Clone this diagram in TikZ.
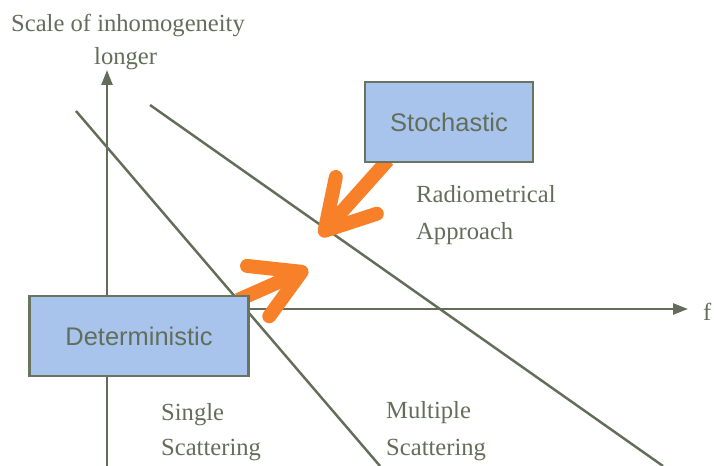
\documentclass[tikz,border=0pt]{standalone}
\usepackage{fontspec}
\setmainfont{Liberation Serif}
\setsansfont{Liberation Sans}
\usetikzlibrary{arrows.meta, positioning}
\definecolor{ink}{RGB}{98,110,90}
\definecolor{boxblue}{RGB}{168,196,236}
\definecolor{boxedge}{RGB}{104,116,96}
\definecolor{hintorange}{RGB}{248,128,40}

\begin{document}
\begin{tikzpicture}[x=0.02cm, y=-0.02cm, color=ink, line width=1.4pt]
 \tikzstyle{axisline} = [-{Triangle[length=0.3cm, width=0.22cm]}]
 \tikzstyle{block} = [rectangle, draw=boxedge, fill=boxblue, line width=1.5pt, text=ink,
   font=\sffamily\fontsize{14.5}{17}\selectfont, minimum height=1.6cm]
 \tikzstyle{txt} = [font=\fontsize{14}{17}\selectfont, anchor=base west, inner sep=0pt]
 \tikzstyle{push} = [hintorange, line width=0.28cm, -{Straight Barb[round, length=0.95cm, width=1.1cm]}]
 \useasboundingbox (0,0) rectangle (714,466);

 % axes and the two borders
 \coordinate (origin) at (107,309);
 \coordinate (ybot) at (107,466);
 \coordinate (ytop) at (107,70);
 \coordinate (xend) at (688,309);
 \draw[axisline] (ybot) -- (ytop);
 \draw[axisline] (origin) -- (xend);
 \draw (76,111) -- (380,466);
 \draw (150,105) -- (663,466);

 % labels
 \node[txt] (title) at (10,32) {Scale of inhomogeneity};
 \node[txt] (longer) at (93,65) {longer};
 \node[txt] (f) at (702,320) {f};
 \node[txt] (radio) at (415,203) {Radiometrical};
 \node[txt] (appr) at (415,239) {Approach};
 \node[txt] (single) at (160,420) {Single};
 \node[txt] (sscat) at (160,455) {Scattering};
 \node[txt] (multi) at (385,418) {Multiple};
 \node[txt] (mscat) at (385,455) {Scattering};

 % the two regimes and the arrows between them
 \coordinate (tipA) at (320,236);
 \coordinate (tipB) at (308,269);
 \draw[push] (388,160) -- (tipA);
 \draw[push] (238,300) -- (tipB);
 \node[block, minimum width=3.36cm] (sto) at (449,122) {Stochastic};
 \node[block, minimum width=4.38cm] (det) at (139,336) {Deterministic};
\end{tikzpicture}
\end{document}
